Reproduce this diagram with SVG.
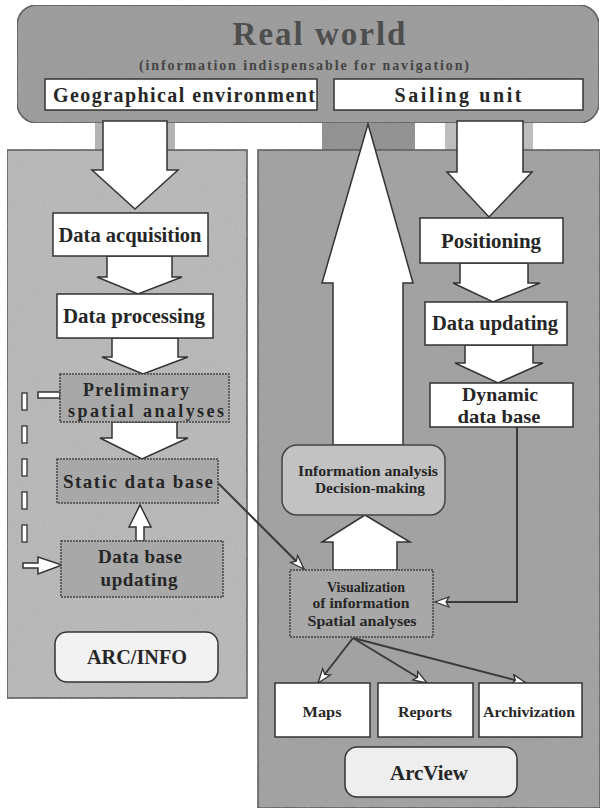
<svg xmlns="http://www.w3.org/2000/svg" width="606" height="811" viewBox="0 0 606 811">
<defs>
<style>
.t{font-family:"Liberation Serif","Times New Roman",serif;font-weight:bold;fill:#262626;text-anchor:middle}
.wb{fill:#fff;stroke:#333;stroke-width:1.5}
.gb{fill:#a8a8a8;stroke:#444;stroke-width:1.5;stroke-dasharray:2 1}
.ar{fill:#fff;stroke:#333;stroke-width:1.5;stroke-linejoin:miter}
.ln{fill:none;stroke:#3a3a3a;stroke-width:2}
</style>
<marker id="hd" viewBox="0 0 16 12" refX="15" refY="6" markerWidth="16" markerHeight="12" markerUnits="userSpaceOnUse" orient="auto">
<path d="M1,1 L15,6 L1,11 L4,6 Z" fill="#fff" stroke="#333" stroke-width="1.3"/>
</marker>
<filter id="grain" x="0" y="0" width="100%" height="100%">
<feTurbulence type="fractalNoise" baseFrequency="0.8" numOctaves="2" seed="3" result="n"/>
<feColorMatrix in="n" type="matrix" values="0 0 0 0 0.35 0 0 0 0 0.35 0 0 0 0 0.35 0 0 0 0.6 -0.1" result="m"/>
<feComposite in="m" in2="SourceGraphic" operator="in" result="c"/>
<feMerge><feMergeNode in="SourceGraphic"/><feMergeNode in="c"/></feMerge>
</filter>
</defs>
<rect width="606" height="811" fill="#fff"/>

<g id="panels" filter="url(#grain)">
<rect x="95" y="120" width="80" height="32" fill="#b8b8b8"/>
<rect x="322" y="120" width="93" height="32" fill="#8f8f8f"/>
<rect x="445" y="120" width="88" height="32" fill="#c4c4c4"/>
<rect id="arcinfo-panel" x="7" y="150" width="240" height="548" fill="#bdbdbd" stroke="#444" stroke-width="1.5"/>
<rect id="arcview-panel" x="258" y="150" width="342" height="658" fill="#a3a3a3" stroke="#444" stroke-width="1.5"/>
</g>

<g id="real-world">
<rect x="17" y="5" width="582" height="118" rx="20" fill="#9c9c9c" stroke="#444" stroke-width="1.5" filter="url(#grain)"/>
<text class="t" x="320" y="45" font-size="33" letter-spacing="2" style="fill:#4e4e4e">Real world</text>
<text class="t" x="304" y="70" font-size="14" textLength="330" lengthAdjust="spacing" style="fill:#444">(information indispensable for navigation)</text>
</g>
<g id="geo">
<rect class="wb" x="45" y="79" width="272" height="31"/>
<text class="t" x="184" y="102" font-size="20" textLength="262" lengthAdjust="spacing">Geographical environment</text>
</g>
<g id="sailing">
<rect class="wb" x="334" y="79" width="249" height="31"/>
<text class="t" x="458" y="102" font-size="20" textLength="127" lengthAdjust="spacing">Sailing unit</text>
</g>

<g id="connectors">
<polygon class="ar" points="103,121 167,121 167,170 178,170 135,209 92,170 103,170"/>
<polygon class="ar" points="457,121 523,121 523,172 532,172 489,217 447,172 457,172"/>
<polygon class="ar" points="368,124 413,283 403,283 403,445 333,445 333,283 322,283"/>
<polygon class="ar" points="107,256 172,256 172,277 182,277 138,294 97,277 107,277"/>
<polygon class="ar" points="112,338 178,338 178,357 188,357 143,374 102,357 112,357"/>
<polygon class="ar" points="112,422 177,422 177,438 188,438 142,459 100,438 112,438"/>
<polygon class="ar" points="460,263 528,263 528,283 540,283 493,302 453,283 460,283"/>
<polygon class="ar" points="465,345 533,345 533,363 543,363 498,383 455,363 465,363"/>
<polygon class="ar" points="333,570 397,570 397,542 410,542 365,515 322,542 333,542"/>
<polygon class="ar" points="136,541 144,541 144,527 151,527 140,505 129,527 136,527"/>
<rect class="ar" x="38" y="392" width="22" height="6"/>
<polygon class="ar" points="23,563 38,563 38,557 62,565 38,574 38,568 23,568"/>
<g fill="#fff" stroke="#333" stroke-width="1.3">
<rect x="22" y="393" width="5" height="17"/>
<rect x="22" y="426" width="5" height="17"/>
<rect x="22" y="459" width="5" height="17"/>
<rect x="22" y="492" width="5" height="17"/>
<rect x="22" y="525" width="5" height="17"/>
</g>
<path class="ln" d="M218,483 L304,569" marker-end="url(#hd)"/>
<path class="ln" d="M517,427 V602 H435" marker-end="url(#hd)"/>
<path class="ln" d="M353,638 L318,683" marker-end="url(#hd)"/>
<path class="ln" d="M353,638 L427,683" marker-end="url(#hd)"/>
<path class="ln" d="M353,638 L526,683" marker-end="url(#hd)"/>
</g>

<g id="data-acquisition">
<rect class="wb" x="53" y="213" width="155" height="43"/>
<text class="t" x="130" y="242" font-size="20" textLength="143" lengthAdjust="spacingAndGlyphs">Data acquisition</text>
</g>
<g id="data-processing">
<rect class="wb" x="57" y="294" width="156" height="44"/>
<text class="t" x="134" y="323" font-size="20" textLength="142" lengthAdjust="spacingAndGlyphs">Data processing</text>
</g>
<g id="preliminary">
<rect class="gb" x="60" y="374" width="169" height="48"/>
<text class="t" x="136" y="396" font-size="18" textLength="106" lengthAdjust="spacing">Preliminary</text>
<text class="t" x="146" y="417" font-size="18" textLength="156" lengthAdjust="spacing">spatial analyses</text>
</g>
<g id="static-db">
<rect class="gb" x="57" y="459" width="161" height="44"/>
<text class="t" x="138" y="488" font-size="19" textLength="150" lengthAdjust="spacing">Static data base</text>
</g>
<g id="db-updating">
<rect class="gb" x="61" y="541" width="162" height="56"/>
<text class="t" x="140" y="563" font-size="19" textLength="84" lengthAdjust="spacing">Data base</text>
<text class="t" x="139" y="586" font-size="19" textLength="77" lengthAdjust="spacing">updating</text>
</g>
<g id="arcinfo">
<rect x="55" y="632" width="163" height="50" rx="12" fill="#f2f2f2" stroke="#333" stroke-width="1.5"/>
<text class="t" x="137" y="664" font-size="20" textLength="100" lengthAdjust="spacingAndGlyphs">ARC/INFO</text>
</g>

<g id="positioning">
<rect class="wb" x="420" y="218" width="143" height="45"/>
<text class="t" x="491" y="248" font-size="20" textLength="100" lengthAdjust="spacingAndGlyphs">Positioning</text>
</g>
<g id="data-updating">
<rect class="wb" x="425" y="302" width="142" height="43"/>
<text class="t" x="495" y="330" font-size="20" textLength="126" lengthAdjust="spacingAndGlyphs">Data updating</text>
</g>
<g id="dynamic-db">
<rect class="wb" x="430" y="383" width="143" height="44"/>
<text class="t" x="500" y="401" font-size="19" textLength="76" lengthAdjust="spacingAndGlyphs">Dynamic</text>
<text class="t" x="499" y="423" font-size="19" textLength="83" lengthAdjust="spacingAndGlyphs">data base</text>
</g>
<g id="info-analysis">
<rect x="282" y="445" width="163" height="70" rx="15" fill="#c2c2c2" stroke="#444" stroke-width="1.5"/>
<text class="t" x="368" y="476" font-size="14" textLength="140" lengthAdjust="spacingAndGlyphs">Information analysis</text>
<text class="t" x="370" y="493" font-size="14" textLength="110" lengthAdjust="spacingAndGlyphs">Decision-making</text>
</g>
<g id="visualization">
<rect class="gb" x="290" y="570" width="143" height="67"/>
<text class="t" x="366" y="592" font-size="14" textLength="78" lengthAdjust="spacingAndGlyphs">Visualization</text>
<text class="t" x="361" y="608" font-size="14" textLength="97" lengthAdjust="spacingAndGlyphs">of information</text>
<text class="t" x="362" y="626" font-size="14" textLength="109" lengthAdjust="spacingAndGlyphs">Spatial analyses</text>
</g>
<g id="maps">
<rect class="wb" x="275" y="683" width="95" height="54"/>
<text class="t" x="322" y="717" font-size="14" textLength="39" lengthAdjust="spacingAndGlyphs">Maps</text>
</g>
<g id="reports">
<rect class="wb" x="378" y="683" width="95" height="54"/>
<text class="t" x="425" y="717" font-size="14" textLength="54" lengthAdjust="spacingAndGlyphs">Reports</text>
</g>
<g id="archivization">
<rect class="wb" x="479" y="683" width="103" height="54"/>
<text class="t" x="529" y="717" font-size="14" textLength="92" lengthAdjust="spacingAndGlyphs">Archivization</text>
</g>
<g id="arcview">
<rect x="345" y="747" width="172" height="50" rx="12" fill="#eeeeee" stroke="#333" stroke-width="1.5"/>
<text class="t" x="429" y="780" font-size="20" textLength="78" lengthAdjust="spacingAndGlyphs">ArcView</text>
</g>
</svg>
